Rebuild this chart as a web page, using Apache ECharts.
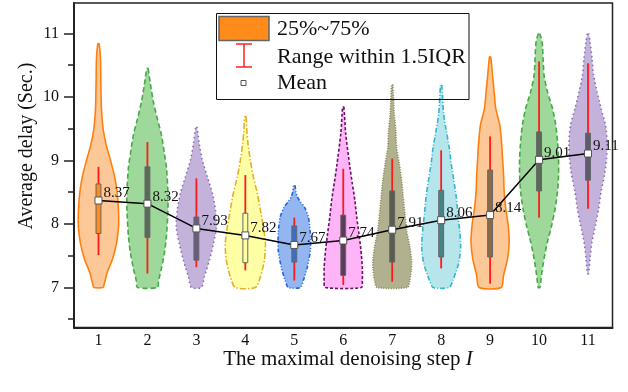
<!DOCTYPE html>
<html lang="en">
  <head>
    <meta charset="UTF-8" />
    <title>Violin delay</title>
    <script src="https://cdn.jsdelivr.net/npm/echarts@6.0.0/dist/echarts.min.js"></script>
    <style>
      html, body { margin: 0; padding: 0; background: #fff; }
    </style>
  </head>
  <body>
    <div id="main" style="width: 628px; height: 392px"></div>
    <script type="text/javascript">
      // categories = the maximal denoising step I
      const steps = ['1', '2', '3', '4', '5', '6', '7', '8', '9', '10', '11'];
      const means = [8.37, 8.32, 7.93, 7.82, 7.67, 7.74, 7.91, 8.06, 8.14, 9.01, 9.11];
      const q1 = [7.85, 7.79, 7.43, 7.39, 7.40, 7.19, 7.40, 7.48, 7.48, 8.52, 8.69];
      const q3 = [8.63, 8.90, 8.11, 8.17, 7.97, 8.14, 8.52, 8.53, 8.85, 9.45, 9.43];
      const whiskerLow = [7.51, 7.22, 7.32, 7.27, 7.11, 7.04, 7.09, 7.30, 7.06, 8.10, 8.24];
      const whiskerHigh = [8.90, 9.29, 8.72, 8.77, 8.10, 8.87, 9.03, 9.16, 9.38, 10.56, 10.53];
      const yTicks = [7, 8, 9, 10, 11];
      const yMinorTicks = [6.5, 7.5, 8.5, 9.5, 10.5];

      // violin outlines: [delay, relative density], top to bottom
      const violins = [
        [[10.84, 0.03], [10.6, 0.1], [10.2, 0.12], [9.8, 0.15], [9.5, 0.23], [9.25, 0.38], [9.0, 0.6], [8.75, 0.8], [8.5, 0.93], [8.2, 1.0], [7.95, 1.0], [7.7, 0.9], [7.45, 0.7], [7.25, 0.45], [7.05, 0.28], [7.0, 0.23]],
        [[10.45, 0.03], [10.2, 0.15], [9.92, 0.3], [9.65, 0.5], [9.4, 0.7], [9.1, 0.85], [8.88, 0.95], [8.5, 1.02], [8.2, 1.02], [7.82, 0.95], [7.55, 0.85], [7.3, 0.7], [7.1, 0.55], [7.0, 0.5]],
        [[9.53, 0.03], [9.27, 0.14], [9.0, 0.3], [8.74, 0.55], [8.48, 0.8], [8.22, 0.95], [7.95, 1.0], [7.69, 0.85], [7.43, 0.65], [7.17, 0.4], [7.0, 0.25]],
        [[9.69, 0.03], [9.45, 0.08], [9.27, 0.13], [9.0, 0.25], [8.74, 0.4], [8.48, 0.6], [8.22, 0.75], [7.95, 0.9], [7.69, 1.0], [7.43, 0.95], [7.17, 0.75], [7.0, 0.5]],
        [[8.61, 0.03], [8.5, 0.08], [8.43, 0.15], [8.35, 0.3], [8.27, 0.5], [8.11, 0.7], [7.85, 0.8], [7.59, 0.8], [7.32, 0.65], [7.11, 0.45], [7.0, 0.3]],
        [[9.84, 0.03], [9.43, 0.12], [8.9, 0.33], [8.64, 0.45], [8.37, 0.58], [8.11, 0.67], [7.85, 0.78], [7.59, 0.88], [7.32, 0.95], [7.11, 0.95], [7.0, 0.9]],
        [[10.19, 0.03], [9.74, 0.1], [9.48, 0.18], [9.21, 0.22], [8.95, 0.35], [8.69, 0.47], [8.43, 0.55], [8.17, 0.63], [7.9, 0.72], [7.64, 0.88], [7.38, 0.97], [7.11, 0.88], [7.0, 0.75]],
        [[10.19, 0.03], [9.74, 0.12], [9.48, 0.25], [9.21, 0.4], [8.95, 0.5], [8.69, 0.63], [8.43, 0.75], [8.17, 0.83], [7.9, 0.92], [7.64, 0.97], [7.38, 0.87], [7.11, 0.58], [7.0, 0.4]],
        [[10.63, 0.03], [10.34, 0.12], [10.08, 0.2], [9.82, 0.28], [9.56, 0.48], [9.29, 0.57], [9.03, 0.62], [8.77, 0.67], [8.51, 0.7], [8.24, 0.78], [7.98, 0.9], [7.72, 0.95], [7.46, 0.87], [7.19, 0.67], [7.0, 0.55]],
        [[11.0, 0.03], [10.87, 0.15], [10.61, 0.2], [10.34, 0.25], [10.08, 0.42], [9.82, 0.67], [9.56, 0.83], [9.29, 0.92], [9.03, 0.97], [8.77, 0.97], [8.51, 0.92], [8.24, 0.8], [7.98, 0.63], [7.72, 0.42], [7.46, 0.25], [7.19, 0.12], [7.0, 0.04]],
        [[11.0, 0.03], [10.87, 0.1], [10.61, 0.2], [10.34, 0.28], [10.08, 0.45], [9.82, 0.65], [9.56, 0.87], [9.29, 0.95], [9.03, 0.92], [8.77, 0.82], [8.51, 0.65], [8.24, 0.53], [7.98, 0.37], [7.72, 0.2], [7.46, 0.1], [7.22, 0.03]]
      ];

      const fills = ['#FDC898', '#9FD89B', '#C3B3DB', '#FFFFA6', '#93B6F0', '#FEB4F6', '#B1B190', '#B6E5EB', '#FDC898', '#9FD89B', '#C3B3DB'];
      const strokes = ['#FF7F0E', '#45AA45', '#8A6BB8', '#E2B02A', '#2363E0', '#6B0F6B', '#8A8A5A', '#33B6CF', '#FF7F0E', '#45AA45', '#8A6BB8'];
      const dashes = ['solid', [5, 3], [1.5, 3], [6, 2, 1.5, 2], [4, 2, 1, 2, 1, 2], [3, 2], [1, 1.5], [5, 2, 1, 2], 'solid', [5, 3], [1.5, 3]];
      const boxFills = ['#FF8C1A', '#5A6A5A', '#6A5C80', '#FFFFA6', '#3A6EC8', '#5A3C5A', '#5A5A50', '#4A8088', '#8A6A48', '#5A6A5A', '#5E5A70'];

      const FONT = 'Liberation Serif';
      const HALF = 0.41; // violin half-width at density 1, in category bands

      let myChart = echarts.init(document.getElementById('main'));

      let options = {
        animation: false,
        textStyle: { fontFamily: FONT },
        grid: {
          left: 74, right: 15.5, top: 3, bottom: 64.5,
          show: true, borderColor: '#222', borderWidth: 1.5,
          containLabel: false, outerBoundsMode: 'none'
        },
        xAxis: {
          type: 'category',
          data: steps,
          boundaryGap: true,
          axisLine: { lineStyle: { color: '#222', width: 2 } },
          axisTick: { inside: true, length: 9, alignWithLabel: true, lineStyle: { color: '#222', width: 1.5 } },
          axisLabel: { margin: 5, fontSize: 16, color: '#111', fontFamily: FONT },
          splitLine: { show: false }
        },
        yAxis: [
          {
            type: 'value',
            min: 6.37, max: 11.48,
            axisLine: { show: true, lineStyle: { color: '#222', width: 2 } },
            axisTick: { show: true, length: 10, customValues: yTicks, lineStyle: { color: '#222', width: 1.5 } },
            axisLabel: { margin: 15, fontSize: 16, color: '#111', fontFamily: FONT, customValues: yTicks },
            splitLine: { show: false }
          },
          {
            type: 'value',
            min: 6.37, max: 11.48,
            position: 'left',
            axisLine: { show: false },
            axisTick: { show: true, length: 6, customValues: yMinorTicks, lineStyle: { color: '#222', width: 1.5 } },
            axisLabel: { show: false },
            splitLine: { show: false }
          }
        ],
        series: [
          {
            type: 'custom',
            name: 'violin',
            z: 1,
            data: steps.map((s, i) => [i, means[i]]),
            renderItem: function (params, api) {
              const i = api.value(0);
              const band = api.size([1, 0])[0];
              const prof = violins[i];
              const right = [], left = [];
              prof.forEach(function (p) {
                const c = api.coord([i, p[0]]);
                const w = p[1] * HALF * band;
                right.push([c[0] + w, c[1]]);
                left.push([c[0] - w, c[1]]);
              });
              const pts = right.concat(left.reverse());
              return {
                type: 'polygon',
                shape: { points: pts, smooth: 0.25 },
                style: {
                  fill: fills[i],
                  stroke: strokes[i],
                  lineWidth: 1.6,
                  lineDash: dashes[i]
                }
              };
            }
          },
          {
            type: 'custom',
            name: 'box',
            z: 2,
            data: steps.map((s, i) => [i, whiskerLow[i], q1[i], q3[i], whiskerHigh[i]]),
            renderItem: function (params, api) {
              const i = api.value(0);
              const band = api.size([1, 0])[0];
              const lo = api.coord([i, api.value(1)]);
              const b1 = api.coord([i, api.value(2)]);
              const b3 = api.coord([i, api.value(3)]);
              const hi = api.coord([i, api.value(4)]);
              const bw = 0.1 * band;
              return {
                type: 'group',
                children: [
                  {
                    type: 'line',
                    shape: { x1: lo[0], y1: lo[1], x2: hi[0], y2: hi[1] },
                    style: { stroke: '#FF1A1A', lineWidth: 1.8 }
                  },
                  {
                    type: 'rect',
                    shape: { x: b3[0] - bw / 2, y: b3[1], width: bw, height: b1[1] - b3[1] },
                    style: { fill: boxFills[i], stroke: '#666', lineWidth: 1 }
                  }
                ]
              };
            }
          },
          {
            type: 'line',
            name: 'Mean',
            z: 3,
            data: means,
            symbol: 'rect',
            symbolSize: 7,
            itemStyle: { color: '#fff', borderColor: '#555', borderWidth: 1 },
            lineStyle: { color: '#000', width: 1.5 },
            label: {
              show: true,
              position: 'right',
              distance: 1,
              offset: [0, -7],
              fontFamily: FONT,
              fontSize: 15,
              color: '#111',
              formatter: function (p) { return p.value.toFixed(2); }
            }
          }
        ],
        graphic: [
          {
            type: 'text', left: null, x: 27, y: 146, rotation: Math.PI / 2, z: 10,
            style: { text: 'Average delay (Sec.)', font: '20px "Liberation Serif"', fill: '#111', align: 'center', verticalAlign: 'middle' }
          },
          {
            type: 'text', x: 348, y: 359, z: 10,
            style: {
              text: 'The maximal denoising step {i|I}',
              rich: { i: { fontStyle: 'italic', fontFamily: FONT, fontSize: 21 } },
              font: '21px "Liberation Serif"', fill: '#111', align: 'center', verticalAlign: 'middle'
            }
          },
          {
            type: 'rect', z: 10,
            shape: { x: 216.5, y: 13.5, width: 252.5, height: 86 },
            style: { fill: null, stroke: '#111', lineWidth: 1 }
          },
          {
            type: 'rect', z: 10,
            shape: { x: 219, y: 16.5, width: 50, height: 24 },
            style: { fill: '#FF8C1A', stroke: '#666', lineWidth: 1.5 }
          },
          {
            type: 'text', x: 277, y: 29, z: 10,
            style: { text: '25%~75%', font: '22px "Liberation Serif"', fill: '#111', verticalAlign: 'middle' }
          },
          { type: 'line', z: 10, shape: { x1: 236, y1: 44, x2: 252, y2: 44 }, style: { stroke: '#FF2020', lineWidth: 1.5 } },
          { type: 'line', z: 10, shape: { x1: 244, y1: 44, x2: 244, y2: 67 }, style: { stroke: '#FF2020', lineWidth: 1.5 } },
          { type: 'line', z: 10, shape: { x1: 236, y1: 67, x2: 252, y2: 67 }, style: { stroke: '#FF2020', lineWidth: 1.5 } },
          {
            type: 'text', x: 277, y: 57, z: 10,
            style: { text: 'Range within 1.5IQR', font: '22px "Liberation Serif"', fill: '#111', verticalAlign: 'middle' }
          },
          {
            type: 'rect', z: 10,
            shape: { x: 241, y: 80.5, width: 5, height: 5 },
            style: { fill: '#fff', stroke: '#555', lineWidth: 1 }
          },
          {
            type: 'text', x: 277, y: 83, z: 10,
            style: { text: 'Mean', font: '22px "Liberation Serif"', fill: '#111', verticalAlign: 'middle' }
          }
        ]
      };

      myChart.setOption(options);
    </script>
  </body>
</html>
